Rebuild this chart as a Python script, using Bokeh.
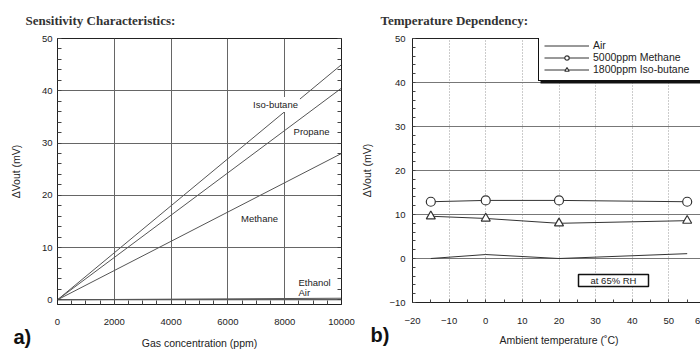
from bokeh.plotting import figure
from bokeh.models import (Range1d, LinearAxis, Label, BoxAnnotation, Legend,
                          LegendItem, SingleIntervalTicker, Title)
from bokeh.layouts import row
from bokeh.embed import file_html
from bokeh.resources import INLINE

# ---------------- data ----------------
# a) Sensitivity characteristics
conc = [0, 10000]
iso_butane = [0, 45.0]
propane = [0, 40.5]
methane = [0, 28.0]
ethanol = [0, 0.3]
air = [0, 0.0]
curve_names = ["Iso-butane", "Propane", "Methane", "Ethanol", "Air"]

# b) Temperature dependency
temps = [-15, 0, 20, 55]
air_t = [0.0, 0.9, 0.0, 1.1]
methane_t = [12.9, 13.2, 13.2, 12.9]
isobutane_t = [9.6, 9.1, 8.0, 8.6]
legend_labels = ["Air", "5000ppm Methane", "1800ppm Iso-butane"]
rh_note = "at 65% RH"

titles = ["Sensitivity Characteristics:", "Temperature Dependency:"]
panel_tags = ["a)", "b)"]
x_labels = ["Gas concentration (ppm)", "Ambient temperature (\u02daC)"]
y_label = "\u0394Vout (mV)"

SANS = "Liberation Sans"
SERIF = "Liberation Serif"
INK = "#222222"

# ---------------- geometry (figure-local pixels) ----------------
A_L, A_T, A_W, A_H = 57, 38, 284, 266
A_X = (0, 10000)
A_Y = (-0.9, 50)
B_L, B_T, B_W, B_H = 49, 38, 293, 264
B_X = (-20, 60)
B_Y = (-10, 50)
LEG_H = 43


def fx(px, L, W, r):
    return r[0] + (px - L) / W * (r[1] - r[0])


def fy(py, T, H, r):
    return r[1] - (py - T) / H * (r[1] - r[0])


def ax_a(px): return fx(px, A_L, A_W, A_X)
def ay_a(py): return fy(py, A_T, A_H, A_Y)
def ax_b(px): return fx(px, B_L, B_W, B_X)
def ay_b(py): return fy(py, B_T, B_H, B_Y)


def style_axis(ax, major_in, minor_in):
    ax.major_label_text_font = SANS
    ax.major_label_text_font_size = "9.5px"
    ax.major_label_text_color = INK
    ax.axis_label_text_font = SANS
    ax.axis_label_text_font_size = "10.5px"
    ax.axis_label_text_font_style = "normal"
    ax.axis_label_text_color = INK
    ax.major_tick_out = 0
    ax.minor_tick_out = 0
    ax.major_tick_in = major_in
    ax.minor_tick_in = minor_in
    ax.axis_line_color = INK
    ax.major_tick_line_color = "#444444"
    ax.minor_tick_line_color = "#444444"


def style_title(t, offset, standoff):
    t.text_font = SERIF
    t.text_font_size = "13px"
    t.text_font_style = "bold"
    t.text_color = "#333333"
    t.align = "left"
    t.vertical_align = "top"
    t.offset = offset
    t.standoff = standoff


# ---------------- panel a ----------------
pa = figure(frame_width=A_W, frame_height=A_H,
            min_border_left=A_L, min_border_right=17,
            min_border_top=A_T, min_border_bottom=45,
            x_range=Range1d(*A_X), y_range=Range1d(*A_Y),
            x_axis_label=x_labels[0], y_axis_label=y_label,
            title=titles[0],
            output_backend="svg", toolbar_location=None)
pa.background_fill_color = "white"
pa.border_fill_color = "white"
pa.outline_line_color = INK
style_title(pa.title, -32, 18)

pa.xaxis[0].ticker = SingleIntervalTicker(interval=2000, num_minor_ticks=4)
pa.yaxis[0].ticker = SingleIntervalTicker(interval=10, num_minor_ticks=5)
style_axis(pa.xaxis[0], 0, 4)
style_axis(pa.yaxis[0], 0, 4)
pa.xaxis[0].major_label_standoff = 14
pa.xaxis[0].axis_label_standoff = 9
pa.yaxis[0].major_label_standoff = 5
pa.yaxis[0].axis_label_standoff = 17

right_a = LinearAxis(ticker=SingleIntervalTicker(interval=10, num_minor_ticks=5))
style_axis(right_a, 0, 4)
right_a.major_label_text_color = None
right_a.major_label_standoff = 0
pa.add_layout(right_a, "right")

pa.xgrid.grid_line_color = "#666666"
pa.ygrid.grid_line_color = "#666666"

for ys in (iso_butane, propane, methane, ethanol, air):
    pa.line(conc, ys, line_color="#555555", line_width=1)

label_pos_a = {
    "Iso-butane": (275, 104, "center", "#ffffff"),
    "Propane": (311, 131, "center", None),
    "Methane": (259, 218, "center", None),
    "Ethanol": (298, 282, "left", None),
    "Air": (298, 292, "left", None),
}
for name in curve_names:
    px, py, align, bg = label_pos_a[name]
    lab = Label(x=ax_a(px), y=ay_a(py), text=name, text_font=SANS,
                text_font_size="9.5px", text_color=INK, text_align=align,
                text_baseline="middle")
    if bg:
        lab.background_fill_color = bg
        lab.padding = 2
    pa.add_layout(lab)

tag_a = Title(text=panel_tags[0], text_font=SANS, text_font_size="20px",
              text_font_style="bold", text_color="#111111", align="left",
              vertical_align="top", offset=-44, standoff=-52)
pa.add_layout(tag_a, "below")

# ---------------- panel b ----------------
pb = figure(frame_width=B_W, frame_height=B_H,
            min_border_left=B_L, min_border_right=0,
            min_border_top=B_T, min_border_bottom=47,
            x_range=Range1d(*B_X), y_range=Range1d(*B_Y),
            x_axis_label=x_labels[1], y_axis_label=y_label,
            title=titles[1],
            output_backend="svg", toolbar_location=None)
pb.background_fill_color = "white"
pb.border_fill_color = "white"
pb.outline_line_color = INK
style_title(pb.title, -32, 18)

pb.xaxis[0].ticker = SingleIntervalTicker(interval=10, num_minor_ticks=2)
pb.yaxis[0].ticker = SingleIntervalTicker(interval=10, num_minor_ticks=5)
style_axis(pb.xaxis[0], 0, 3)
style_axis(pb.yaxis[0], 0, 3)
pb.xaxis[0].major_label_standoff = 15
pb.xaxis[0].axis_label_standoff = 7
pb.yaxis[0].major_label_standoff = 7
pb.yaxis[0].axis_label_standoff = 13

pb.xgrid.grid_line_color = "#999999"
pb.xgrid.grid_line_dash = "1 2"
pb.ygrid.grid_line_color = "#777777"

r_air = pb.line(temps, air_t, line_color="#333333", line_width=1)
r_m_line = pb.line(temps, methane_t, line_color="#333333", line_width=1)
r_m_pts = pb.scatter(temps, methane_t, marker="circle", size=9,
                     fill_color="white", line_color="#333333", line_width=1.2)
r_i_line = pb.line(temps, isobutane_t, line_color="#333333", line_width=1)
r_i_pts = pb.scatter(temps, isobutane_t, marker="triangle", size=9,
                     fill_color="white", line_color="#333333", line_width=1.2)

# legend drop shadow (legend: left at local x 175, top at frame top)
shadow = BoxAnnotation(left=ax_b(177), right=ax_b(360), top=ay_b(42),
                       bottom=ay_b(B_T + 45), fill_color="#111111",
                       fill_alpha=1, line_color=None, level="glyph")
pb.add_layout(shadow)

legend = Legend(items=[
    LegendItem(label=legend_labels[0], renderers=[r_air]),
    LegendItem(label=legend_labels[1], renderers=[r_m_line, r_m_pts]),
    LegendItem(label=legend_labels[2], renderers=[r_i_line, r_i_pts]),
], location=(126, B_H - LEG_H))
legend.border_line_color = "#111111"
legend.border_line_width = 1.5
legend.border_line_alpha = 1
legend.background_fill_color = "white"
legend.background_fill_alpha = 1
legend.label_text_font = SANS
legend.label_text_font_size = "10.5px"
legend.label_text_color = INK
legend.glyph_width = 45
legend.glyph_height = 11
legend.label_height = 11
legend.label_width = 115
legend.label_standoff = 4
legend.spacing = 0
legend.padding = 5
legend.margin = 0
pb.add_layout(legend)

# RH note
pb.add_layout(BoxAnnotation(left=ax_b(215), right=ax_b(285), top=ay_b(274),
                            bottom=ay_b(286), fill_color="white", fill_alpha=1,
                            line_color="#111111", line_alpha=1, line_width=1.5))
pb.add_layout(Label(x=ax_b(250), y=ay_b(280), text=rh_note, text_font=SANS,
                    text_font_size="9.5px", text_color=INK, text_align="center",
                    text_baseline="middle"))

tag_b = Title(text=panel_tags[1], text_font=SANS, text_font_size="20px",
              text_font_style="bold", text_color="#111111", align="left",
              vertical_align="top", offset=-42, standoff=-50)
pb.add_layout(tag_b, "below")

layout = row(pa, pb)
open("out.html", "w").write(file_html(layout, INLINE))
